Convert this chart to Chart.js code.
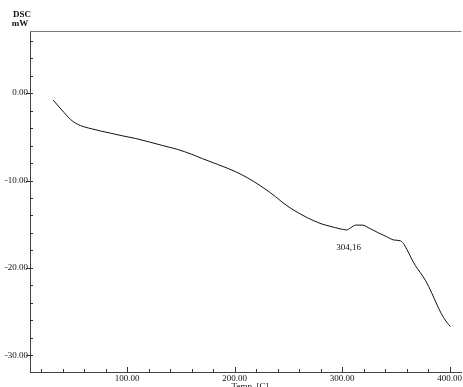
<!DOCTYPE html>
<html>
<head>
<meta charset="utf-8">
<script src="https://cdn.jsdelivr.net/npm/chart.js@4/dist/chart.umd.min.js"></script>
<style>
  html, body { margin: 0; padding: 0; background: #fff; }
  canvas { display: block; }
</style>
</head>
<body>
<canvas id="dsc" width="463" height="387"></canvas>
<script>
// DSC heating curve: temperature (°C) against heat flow (mW)
const temps = [31, 36, 41, 45, 49.5, 54, 58.8, 64, 68, 75, 85, 96, 108, 120.7, 133, 147, 160, 170, 185, 201,
  212, 222.7, 231, 238, 245, 250.6, 259.9, 267.5, 278.4, 286, 293.9, 299, 304.16, 308, 312.4, 318.6, 326, 334,
  341, 348, 354.2, 357, 360.3, 364, 368, 372.5, 377.4, 383.5, 389.7, 395, 400.6];
const dsc = [-0.8, -1.5, -2.2, -2.75, -3.25, -3.58, -3.82, -4.0, -4.12, -4.33, -4.6, -4.9, -5.2, -5.6, -6.0, -6.45,
  -7.0, -7.5, -8.2, -9.0, -9.7, -10.5, -11.2, -11.85, -12.55, -13.05, -13.75, -14.25, -14.85, -15.15, -15.4, -15.55,
  -15.65, -15.4, -15.1, -15.1, -15.5, -16.0, -16.4, -16.8, -16.9, -17.2, -17.9, -18.8, -19.7, -20.5, -21.4, -22.9,
  -24.6, -25.8, -26.7];

// peak marker
const peakTemp = 304.16;
const peakLabel = "304,16";

// axis ticks
const xTicks = [20, 40, 60, 80, 100, 120, 140, 160, 180, 200, 220, 240, 260, 280, 300, 320, 340, 360, 380, 400];
const xLabelTicks = [100, 200, 300, 400];
const yTicks = [6, 4, 2, 0, -2, -4, -6, -8, -10, -12, -14, -16, -18, -20, -22, -24, -26, -28, -30];
const yLabelTicks = [0, -10, -20, -30];

const FONT = "'Liberation Serif', 'DejaVu Serif', serif";

const decor = {
  id: 'decor',
  afterDraw(chart) {
    const { ctx, chartArea: a, scales: { x, y } } = chart;
    ctx.save();
    // frame top line
    ctx.strokeStyle = '#7a7a7a';
    ctx.lineWidth = 1;
    ctx.beginPath();
    ctx.moveTo(a.left, a.top + 0.5);
    ctx.lineTo(a.right, a.top + 0.5);
    ctx.stroke();

    // tick marks
    ctx.strokeStyle = '#333';
    ctx.beginPath();
    yTicks.forEach(v => {
      const py = Math.round(y.getPixelForValue(v)) + 0.5;
      const major = yLabelTicks.includes(v);
      ctx.moveTo(major ? a.left - 4 : a.left, py);
      ctx.lineTo(a.left + 3, py);
    });
    xTicks.forEach(v => {
      const px = Math.round(x.getPixelForValue(v)) + 0.5;
      const major = xLabelTicks.includes(v);
      ctx.moveTo(px, a.bottom);
      ctx.lineTo(px, a.bottom - (major ? 5 : 3));
    });
    ctx.stroke();

    // axis titles and peak annotation
    ctx.fillStyle = '#111';
    ctx.font = 'bold 9px ' + FONT;
    ctx.textAlign = 'center';
    ctx.textBaseline = 'middle';
    ctx.fillText('DSC', 22, 15);
    ctx.fillText('mW', 20, 24);
    ctx.font = '9px ' + FONT;
    ctx.textBaseline = 'top';
    ctx.fillText('Temp. [C]', 250, 382);
    const peakIdx = temps.indexOf(peakTemp);
    ctx.textBaseline = 'middle';
    ctx.fillText(peakLabel, x.getPixelForValue(peakTemp) + 2,
      y.getPixelForValue(dsc[peakIdx]) + 18);
    ctx.restore();
  }
};

new Chart(document.getElementById('dsc'), {
  type: 'line',
  data: {
    datasets: [{
      data: temps.map((t, i) => ({ x: t, y: dsc[i] })),
      borderColor: '#111',
      borderWidth: 1,
      pointRadius: 0,
      fill: false,
      cubicInterpolationMode: 'monotone'
    }]
  },
  options: {
    responsive: false,
    animation: false,
    devicePixelRatio: 1,
    layout: { padding: { top: 31, left: 0, right: 0, bottom: 0 } },
    plugins: { legend: { display: false }, tooltip: { enabled: false } },
    scales: {
      x: {
        type: 'linear',
        min: 9.5,
        max: 411,
        afterFit: s => { s.height = 15; },
        afterBuildTicks: s => { s.ticks = xTicks.map(v => ({ value: v })); },
        grid: { display: false, drawTicks: false },
        border: { display: true, color: '#444', width: 1 },
        ticks: {
          autoSkip: false,
          maxRotation: 0,
          padding: 1,
          color: '#111',
          font: { family: FONT, size: 9 },
          callback: v => xLabelTicks.includes(v) ? v.toFixed(2) : ''
        }
      },
      y: {
        min: -31.9,
        max: 7.1,
        afterFit: s => { s.width = 30; },
        afterBuildTicks: s => { s.ticks = yTicks.map(v => ({ value: v })); },
        grid: { display: false, drawTicks: false },
        border: { display: true, color: '#444', width: 1 },
        ticks: {
          autoSkip: false,
          padding: 2,
          color: '#111',
          font: { family: FONT, size: 9 },
          callback: v => yLabelTicks.includes(v) ? v.toFixed(2) : ''
        }
      }
    }
  },
  plugins: [decor]
});
</script>
</body>
</html>
